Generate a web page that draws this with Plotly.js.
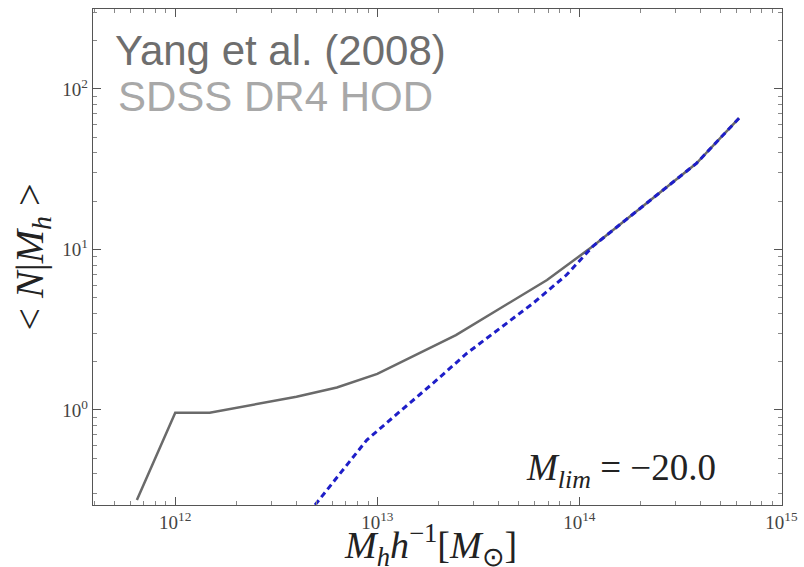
<!DOCTYPE html>
<html>
<head>
<meta charset="utf-8">
<script src="https://cdn.plot.ly/plotly-3.0.1.min.js"></script>
<style>html,body{margin:0;padding:0;background:#fff;}#chart{width:804px;height:567px;}</style>
</head>
<body>
<div id="chart"></div>
<script>
// Halo mass M_h h^-1 [M_sun] and <N|M_h>
const totalMass = [6.46e11, 1.0e12, 1.48e12, 2.51e12, 3.98e12, 6.31e12, 1.0e13, 2.45e13, 6.92e13, 1.17e14, 3.80e14, 6.17e14];
const totalN    = [0.275, 0.96, 0.96, 1.09, 1.21, 1.38, 1.68, 2.93, 6.45, 10.5, 34.4, 65.7];

const satMass = [4.92e12, 8.87e12, 1.29e13, 1.89e13, 2.77e13, 4.05e13, 5.90e13, 8.63e13, 1.17e14, 3.80e14, 6.17e14];
const satN    = [0.256, 0.65, 0.975, 1.47, 2.25, 3.23, 4.62, 6.93, 10.5, 34.4, 65.7];

const xTickVals = [1e12, 1e13, 1e14, 1e15];
const xTickText = ["10<sup>12</sup>", "10<sup>13</sup>", "10<sup>14</sup>", "10<sup>15</sup>"];
const yTickVals = [1, 10, 100];
const yTickText = ["10<sup>0</sup>", "10<sup>1</sup>", "10<sup>2</sup>"];
const xMinorVals = [4e11, 5e11, 6e11, 7e11, 8e11, 9e11,
  2e12, 3e12, 4e12, 5e12, 6e12, 7e12, 8e12, 9e12,
  2e13, 3e13, 4e13, 5e13, 6e13, 7e13, 8e13, 9e13,
  2e14, 3e14, 4e14, 5e14, 6e14, 7e14, 8e14, 9e14];
const yMinorVals = [0.3, 0.4, 0.5, 0.6, 0.7, 0.8, 0.9,
  2, 3, 4, 5, 6, 7, 8, 9,
  20, 30, 40, 50, 60, 70, 80, 90, 200, 300];

const serif = "Liberation Serif, Times New Roman, serif";
const xRange = [11.593, 15.003];
const yRange = [-0.592, 2.498];

const ghost = (xa, ya) => ({x: totalMass, y: totalN, xaxis: xa, yaxis: ya, mode: "lines",
  line: {width: 0, color: "rgba(0,0,0,0)"}, hoverinfo: "none"});

const traces = [
  {x: totalMass, y: totalN, mode: "lines", line: {color: "#6a6a6a", width: 2.5}, hoverinfo: "none"},
  {x: satMass, y: satN, mode: "lines", line: {color: "#1e1ec8", width: 3, dash: "6px,4px"}, hoverinfo: "none"},
  // invisible traces so the extra tick-only axes (mirrored and minor ticks) are drawn
  ghost("x2", "y2"), ghost("x3", "y3"), ghost("x4", "y4")
];

const base = {type: "log", showgrid: false, zeroline: false, ticks: "inside", tickwidth: 1, tickcolor: "#555"};
const majorTop = {ticklen: 8, showticklabels: false, showline: false};
const minorTk = {ticklen: 4, tickcolor: "#888", showticklabels: false, showline: false};

const layout = {
  width: 804, height: 567,
  margin: {l: 93, r: 22, t: 9, b: 62},
  paper_bgcolor: "#fff", plot_bgcolor: "#fff",
  showlegend: false,
  xaxis: Object.assign({}, base, {
    range: xRange, ticklen: 8,
    showline: true, linecolor: "#555", linewidth: 1.3, mirror: true,
    tickvals: xTickVals, ticktext: xTickText,
    tickfont: {family: serif, size: 19, color: "#444"}
  }),
  yaxis: Object.assign({}, base, {
    range: yRange, ticklen: 8,
    showline: true, linecolor: "#555", linewidth: 1.3, mirror: true,
    tickvals: yTickVals, ticktext: yTickText,
    tickfont: {family: serif, size: 19, color: "#444"},
    title: {text: "&lt; <i>N</i>|<i>M</i><sub><i>h</i></sub> &gt;", font: {family: serif, size: 40, color: "#222"}, standoff: 6}
  }),
  // top / right major ticks
  xaxis2: Object.assign({}, base, majorTop, {range: xRange, overlaying: "x", side: "top", anchor: "y", tickvals: xTickVals}),
  yaxis2: Object.assign({}, base, majorTop, {range: yRange, overlaying: "y", side: "right", anchor: "x", tickvals: yTickVals}),
  // top / right minor ticks
  xaxis3: Object.assign({}, base, minorTk, {range: xRange, overlaying: "x", side: "top", anchor: "y", tickvals: xMinorVals}),
  yaxis3: Object.assign({}, base, minorTk, {range: yRange, overlaying: "y", side: "right", anchor: "x", tickvals: yMinorVals}),
  // bottom / left minor ticks
  xaxis4: Object.assign({}, base, minorTk, {range: xRange, overlaying: "x", side: "bottom", anchor: "y", tickvals: xMinorVals}),
  yaxis4: Object.assign({}, base, minorTk, {range: yRange, overlaying: "y", side: "left", anchor: "x", tickvals: yMinorVals}),
  annotations: [
    {xref: "paper", yref: "paper", x: 0.029, y: 0.916, xanchor: "left", yanchor: "middle", showarrow: false,
     text: "Yang et al. (2008)", font: {family: "Liberation Sans, Arial, sans-serif", size: 42, color: "#6e6e6e"}},
    {xref: "paper", yref: "paper", x: 0.033, y: 0.824, xanchor: "left", yanchor: "middle", showarrow: false,
     text: "SDSS DR4 HOD", font: {family: "Liberation Sans, Arial, sans-serif", size: 42, color: "#a8a8a8"}},
    {xref: "paper", yref: "paper", x: 0.907, y: 0.07, xanchor: "right", yanchor: "middle", showarrow: false,
     text: "<i>M</i><sub><i>lim</i></sub> = −20.0", font: {family: serif, size: 37, color: "#222"}},
    // x-axis title
    {xref: "paper", yref: "paper", x: 0.49, y: -0.08, xanchor: "center", yanchor: "middle", showarrow: false,
     text: "<i>M</i><sub><i>h</i></sub><i>h</i><sup>−1</sup>[<i>M</i><sub>⊙</sub>]", font: {family: serif, size: 38, color: "#222"}}
  ]
};

Plotly.newPlot("chart", traces, layout, {staticPlot: true, displayModeBar: false});
</script>
</body>
</html>
